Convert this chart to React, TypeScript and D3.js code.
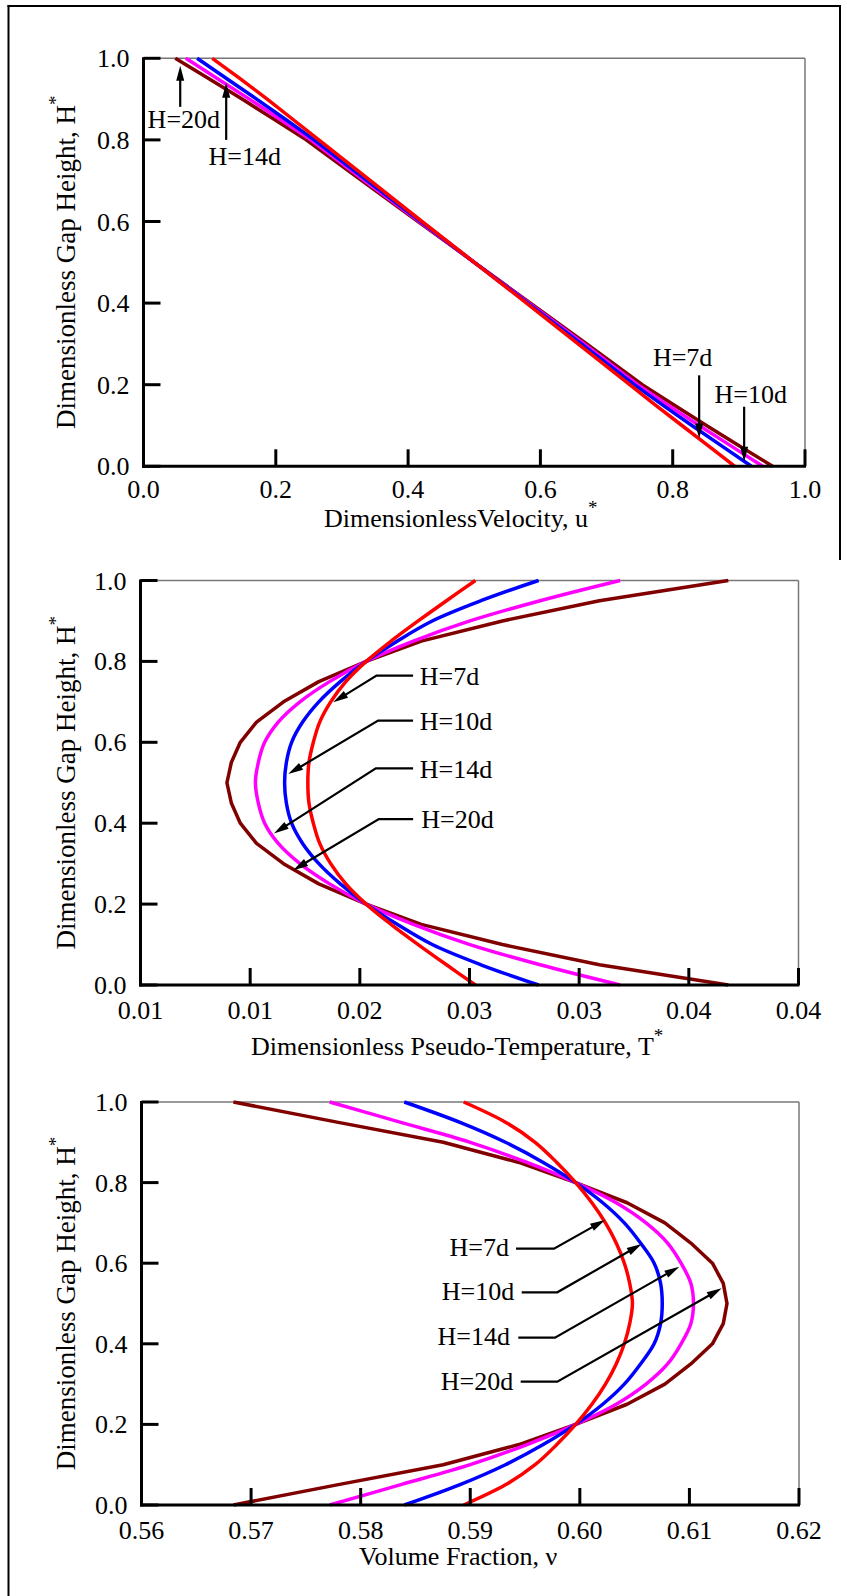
import React from 'react';
import * as d3 from 'd3';

const FONT = '"Liberation Serif", "Times New Roman", serif';

// ---------- shared ----------
const SERIES_NAMES = ['H=20d', 'H=14d', 'H=10d', 'H=7d'];
const SERIES_COLORS = ['#800000', '#ff00ff', '#0000ff', '#ff0000'];
const SERIES_SMOOTH = [false, true, true, true];
const H_TICKS = [0, 0.2, 0.4, 0.6, 0.8, 1.0];
const H_LABELS = ['0.0', '0.2', '0.4', '0.6', '0.8', '1.0'];

// ---------- panel 1 : velocity ----------
const VEL_H = [0, 0.05, 0.1, 0.15, 0.2, 0.3, 0.4, 0.5, 0.6, 0.7, 0.8, 0.85, 0.9, 0.95, 1.0];
const VEL_20 = [0.951, 0.901, 0.851, 0.802, 0.754, 0.670, 0.585, 0.500, 0.415, 0.330, 0.246, 0.198, 0.149, 0.099, 0.048];
const VEL_14 = [0.936, 0.888, 0.840, 0.793, 0.747, 0.666, 0.583, 0.500, 0.417, 0.334, 0.253, 0.207, 0.160, 0.112, 0.064];
const VEL_10 = [0.919, 0.874, 0.829, 0.785, 0.742, 0.662, 0.581, 0.500, 0.419, 0.338, 0.258, 0.215, 0.171, 0.126, 0.081];
const VEL_7 = [0.894, 0.854, 0.814, 0.774, 0.735, 0.657, 0.579, 0.500, 0.421, 0.343, 0.265, 0.226, 0.187, 0.146, 0.104];
const VEL_XTICKS = [0, 0.2, 0.4, 0.6, 0.8, 1.0];
const VEL_XLABELS = ['0.0', '0.2', '0.4', '0.6', '0.8', '1.0'];
// vertical arrow notes: arrow x, tip H, tail H, label x, label H (baseline)
const VEL_NOTES = [
  { label: 'H=20d', x: 0.0555, tip: 0.982, tail: 0.881, lx: 0.061, ly: 0.828 },
  { label: 'H=14d', x: 0.125, tip: 0.940, tail: 0.800, lx: 0.153, ly: 0.738 },
  { label: 'H=7d', x: 0.840, tip: 0.068, tail: 0.223, lx: 0.815, ly: 0.247 },
  { label: 'H=10d', x: 0.908, tip: 0.011, tail: 0.146, lx: 0.918, ly: 0.155 },
];

// ---------- panel 2 : pseudo-temperature ----------
const PROF_H = [0, 0.05, 0.1, 0.15, 0.2, 0.25, 0.3, 0.35, 0.4, 0.45, 0.5, 0.55, 0.6, 0.65, 0.7, 0.75, 0.8, 0.85, 0.9, 0.95, 1.0];
const TEMP_20 = [0.0368, 0.03092, 0.0265, 0.0228, 0.02029, 0.01813, 0.01652, 0.01529, 0.01455, 0.01414, 0.01394, 0.01414, 0.01455, 0.01529, 0.01652, 0.01813, 0.02029, 0.0228, 0.0265, 0.03092, 0.0368];
const TEMP_14 = [0.03187, 0.02822, 0.02502, 0.02244, 0.02029, 0.01862, 0.01727, 0.01628, 0.01566, 0.01537, 0.01524, 0.01537, 0.01566, 0.01628, 0.01727, 0.01862, 0.02029, 0.02244, 0.02502, 0.02822, 0.03187];
const TEMP_10 = [0.02815, 0.02552, 0.0233, 0.0217, 0.02029, 0.01911, 0.01813, 0.01739, 0.01689, 0.01665, 0.01657, 0.01665, 0.01689, 0.01739, 0.01813, 0.01911, 0.02029, 0.0217, 0.0233, 0.02552, 0.02815];
const TEMP_7 = [0.02527, 0.02395, 0.02266, 0.02142, 0.02029, 0.01936, 0.01867, 0.01817, 0.01788, 0.01768, 0.01763, 0.01768, 0.01788, 0.01817, 0.01867, 0.01936, 0.02029, 0.02142, 0.02266, 0.02395, 0.02527];
const TEMP_XTICKS = [0.010, 0.015, 0.020, 0.025, 0.030, 0.035, 0.040];
const TEMP_XLABELS = ['0.01', '0.01', '0.02', '0.03', '0.03', '0.04', '0.04'];
// leader notes: tip (x,H), elbow (x,H), leader end x, label x, label baseline H
const TEMP_NOTES = [
  { label: 'H=7d', tx: 0.018784, ty: 0.6988, ex: 0.020761, ey: 0.7649, end: 0.022428, lx: 0.022732, ly: 0.7425 },
  { label: 'H=10d', tx: 0.016733, ty: 0.5215, ex: 0.020834, ey: 0.6535, end: 0.022428, lx: 0.022732, ly: 0.6312 },
  { label: 'H=14d', tx: 0.016082, ty: 0.3745, ex: 0.020729, ey: 0.5354, end: 0.022428, lx: 0.022732, ly: 0.5124 },
  { label: 'H=20d', tx: 0.016961, ty: 0.2839, ex: 0.020866, ey: 0.4101, end: 0.022428, lx: 0.022800, ly: 0.3886 },
];

// ---------- panel 3 : volume fraction ----------
const VF_20 = [0.56839, 0.57784, 0.58753, 0.59444, 0.59962, 0.60431, 0.60776, 0.61013, 0.6121, 0.61309, 0.61343, 0.61309, 0.6121, 0.61013, 0.60776, 0.60431, 0.59962, 0.59444, 0.58753, 0.57784, 0.56839];
const VF_14 = [0.57717, 0.58359, 0.59, 0.59518, 0.59962, 0.60332, 0.60604, 0.60801, 0.60924, 0.61013, 0.61037, 0.61013, 0.60924, 0.60801, 0.60604, 0.60332, 0.59962, 0.59518, 0.59, 0.58359, 0.57717];
const VF_10 = [0.58398, 0.58901, 0.59321, 0.59666, 0.59962, 0.60209, 0.60406, 0.60554, 0.60678, 0.60737, 0.60752, 0.60737, 0.60678, 0.60554, 0.60406, 0.60209, 0.59962, 0.59666, 0.59321, 0.58901, 0.58398];
const VF_7 = [0.5894, 0.59321, 0.59592, 0.5979, 0.59962, 0.6011, 0.60234, 0.60332, 0.60406, 0.60455, 0.6048, 0.60455, 0.60406, 0.60332, 0.60234, 0.6011, 0.59962, 0.5979, 0.59592, 0.59321, 0.5894];
const VF_XTICKS = [0.56, 0.57, 0.58, 0.59, 0.60, 0.61, 0.62];
const VF_XLABELS = ['0.56', '0.57', '0.58', '0.59', '0.60', '0.61', '0.62'];
// leader notes: tip (x,H), elbow (x,H), leader start x, label right x, label baseline H
const VF_NOTES = [
  { label: 'H=7d', tx: 0.602297, ty: 0.7072, ex: 0.597643, ey: 0.6360, end: 0.594175, lx: 0.593536, ly: 0.6179 },
  { label: 'H=10d', tx: 0.605646, ty: 0.6476, ex: 0.597943, ey: 0.5278, end: 0.594694, lx: 0.594019, ly: 0.5087 },
  { label: 'H=14d', tx: 0.609077, ty: 0.5913, ex: 0.597734, ey: 0.4151, end: 0.594385, lx: 0.593627, ly: 0.3970 },
  { label: 'H=20d', tx: 0.612946, ty: 0.5377, ex: 0.597943, ey: 0.3060, end: 0.594603, lx: 0.593928, ly: 0.2854 },
];

type Frame = { left: number; right: number; top: number; bottom: number };

function Arrow({ pts }: { pts: [number, number][] }) {
  const n = pts.length;
  const [x1, y1] = pts[n - 2];
  const [x2, y2] = pts[n - 1];
  const ang = Math.atan2(y2 - y1, x2 - x1);
  const L = 15, W = 4;
  const bx = x2 - L * Math.cos(ang), by = y2 - L * Math.sin(ang);
  const px = -Math.sin(ang) * W, py = Math.cos(ang) * W;
  const linePts = pts.slice(0, n - 1).concat([[bx + (x2 - bx) * 0.3, by + (y2 - by) * 0.3]]);
  return (
    <g>
      <polyline points={linePts.map((p) => p.join(',')).join(' ')} fill="none" stroke="#000" strokeWidth={2.2} />
      <polygon points={`${x2},${y2} ${bx + px},${by + py} ${bx - px},${by - py}`} fill="#000" />
    </g>
  );
}

function Panel(props: {
  f: Frame;
  xDomain: [number, number];
  xTicks: number[];
  xLabels: string[];
  hs: number[];
  series: number[][];
  smooth: boolean;
  xTitle: string;
  xTitleX: number;
  xTitleY: number;
  tickY: number;
  children?: (x: d3.ScaleLinear<number, number>, y: d3.ScaleLinear<number, number>) => React.ReactNode;
}) {
  const { f, xDomain, xTicks, xLabels, hs, series } = props;
  const x = d3.scaleLinear().domain(xDomain).range([f.left, f.right]);
  const y = d3.scaleLinear().domain([0, 1]).range([f.bottom, f.top]);
  const mkLine = (smooth: boolean) =>
    d3
      .line<[number, number]>()
      .x((d) => x(d[0]))
      .y((d) => y(d[1]))
      .curve(smooth ? d3.curveCatmullRom.alpha(0.5) : d3.curveLinear);
  const T = 17;
  const cy = (f.top + f.bottom) / 2;
  return (
    <g>
      {/* thin top/right frame */}
      <line x1={f.left} x2={f.right} y1={f.top} y2={f.top} stroke="#777" strokeWidth={1.5} />
      <line x1={f.right} x2={f.right} y1={f.top} y2={f.bottom} stroke="#777" strokeWidth={1.5} />
      {/* curves */}
      {series.map((s, i) => (
        <path
          key={i}
          d={mkLine(props.smooth && SERIES_SMOOTH[i])(hs.map((h, k) => [s[k], h]) as [number, number][]) || ''}
          fill="none"
          stroke={SERIES_COLORS[i]}
          strokeWidth={3.5}
          strokeLinejoin="round"
        />
      ))}
      {/* ticks */}
      {H_TICKS.map((t, i) => (
        <g key={'y' + i}>
          <line x1={f.left} x2={f.left + T} y1={y(t)} y2={y(t)} stroke="#000" strokeWidth={3} />
          <text x={f.left - 14} y={y(t) + 9} textAnchor="end" fontFamily={FONT} fontSize={26}>
            {H_LABELS[i]}
          </text>
        </g>
      ))}
      {xTicks.map((t, i) => (
        <g key={'x' + i}>
          <line x1={x(t)} x2={x(t)} y1={f.bottom} y2={f.bottom - T} stroke="#000" strokeWidth={3} />
          <text x={x(t)} y={props.tickY} textAnchor="middle" fontFamily={FONT} fontSize={26}>
            {xLabels[i]}
          </text>
        </g>
      ))}
      {/* thick left/bottom axes */}
      <line x1={f.left} x2={f.left} y1={f.top - 1} y2={f.bottom + 1.5} stroke="#000" strokeWidth={3} />
      <line x1={f.left - 1.5} x2={f.right + 1} y1={f.bottom} y2={f.bottom} stroke="#000" strokeWidth={3} />
      {/* titles */}
      <text x={props.xTitleX} y={props.xTitleY} fontFamily={FONT} fontSize={26}>
        {props.xTitle}
        {props.xTitle.endsWith('ν') ? null : (
          <tspan dy={-13} fontSize={19}>
            *
          </tspan>
        )}
      </text>
      <text
        transform={`translate(75,${cy}) rotate(-90)`}
        textAnchor="middle"
        fontFamily={FONT}
        fontSize={27}
      >
        Dimensionless Gap Height, H
        <tspan dy={-13} fontSize={19}>
          *
        </tspan>
      </text>
      {props.children ? props.children(x, y) : null}
    </g>
  );
}

export default function App() {
  const f1: Frame = { left: 143.5, right: 805, top: 58.3, bottom: 466.3 };
  const f2: Frame = { left: 140.5, right: 798.5, top: 580.5, bottom: 985 };
  const f3: Frame = { left: 141.5, right: 799, top: 1102, bottom: 1505 };
  return (
    <svg
      width={847}
      height={1596}
      viewBox="0 0 847 1596"
      style={{ position: 'absolute', left: 0, top: 0, background: '#fff' }}
    >
      <rect x={0} y={0} width={847} height={1596} fill="#fff" />
      {/* outer frame */}
      <line x1={8.5} x2={8.5} y1={5} y2={1596} stroke="#000" strokeWidth={2} />
      <line x1={7.5} x2={841} y1={6} y2={6} stroke="#000" strokeWidth={2} />
      <line x1={840} x2={840} y1={5} y2={560} stroke="#000" strokeWidth={2} />

      <Panel
        f={f1}
        xDomain={[0, 1]}
        xTicks={VEL_XTICKS}
        xLabels={VEL_XLABELS}
        hs={VEL_H}
        series={[VEL_20, VEL_14, VEL_10, VEL_7]}
        smooth={false}
        xTitle="DimensionlessVelocity, u"
        xTitleX={324}
        xTitleY={527}
        tickY={498}
      >
        {(x, y) =>
          VEL_NOTES.map((n, i) => (
            <g key={i}>
              <Arrow pts={[[x(n.x), y(n.tail)], [x(n.x), y(n.tip)]]} />
              <text x={x(n.lx)} y={y(n.ly)} textAnchor="middle" fontFamily={FONT} fontSize={26}>
                {n.label}
              </text>
            </g>
          ))
        }
      </Panel>

      <Panel
        f={f2}
        xDomain={[0.01, 0.04]}
        xTicks={TEMP_XTICKS}
        xLabels={TEMP_XLABELS}
        hs={PROF_H}
        series={[TEMP_20, TEMP_14, TEMP_10, TEMP_7]}
        smooth={true}
        xTitle="Dimensionless Pseudo-Temperature, T"
        xTitleX={251}
        xTitleY={1055}
        tickY={1019}
      >
        {(x, y) =>
          TEMP_NOTES.map((n, i) => (
            <g key={i}>
              <Arrow pts={[[x(n.end), y(n.ey)], [x(n.ex), y(n.ey)], [x(n.tx), y(n.ty)]]} />
              <text x={x(n.lx)} y={y(n.ly)} fontFamily={FONT} fontSize={26}>
                {n.label}
              </text>
            </g>
          ))
        }
      </Panel>

      <Panel
        f={f3}
        xDomain={[0.56, 0.62]}
        xTicks={VF_XTICKS}
        xLabels={VF_XLABELS}
        hs={PROF_H}
        series={[VF_20, VF_14, VF_10, VF_7]}
        smooth={true}
        xTitle="Volume Fraction, ν"
        xTitleX={359}
        xTitleY={1565}
        tickY={1539}
      >
        {(x, y) =>
          VF_NOTES.map((n, i) => (
            <g key={i}>
              <Arrow pts={[[x(n.end), y(n.ey)], [x(n.ex), y(n.ey)], [x(n.tx), y(n.ty)]]} />
              <text x={x(n.lx)} y={y(n.ly)} textAnchor="end" fontFamily={FONT} fontSize={26}>
                {n.label}
              </text>
            </g>
          ))
        }
      </Panel>
    </svg>
  );
}
